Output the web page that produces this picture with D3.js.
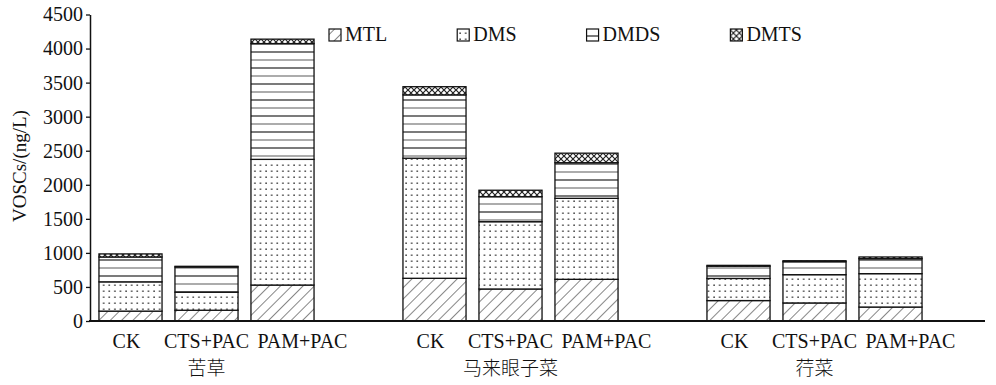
<!DOCTYPE html>
<html>
<head>
<meta charset="utf-8">
<script src="https://cdn.jsdelivr.net/npm/d3@7"></script>
<style>
  html, body { margin: 0; padding: 0; background: #fff; }
  svg { display: block; }
  .serif { font-family: "Liberation Serif", "DejaVu Serif", serif; }
  .cjk { font-family: "Noto Sans CJK SC", sans-serif; }
</style>
</head>
<body>
<svg id="chart" width="996" height="385"></svg>
<script>
// Plant groups, treatments and compound series
const groups = ["苦草", "马来眼子菜", "荇菜"];
const treatments = ["CK", "CTS+PAC", "PAM+PAC"];
const seriesNames = ["MTL", "DMS", "DMDS", "DMTS"];

// Concentrations (ng/L), ordered group by group, treatment by treatment
const MTL  = [145, 158, 528, 627, 470, 612, 300, 265, 205];
const DMS  = [430, 265, 1845, 1763, 988, 1189, 325, 415, 490];
const DMDS = [365, 370, 1700, 930, 367, 523, 180, 190, 220];
const DMTS = [45, 10, 65, 120, 95, 140, 12, 15, 25];

const yTicks = [0, 500, 1000, 1500, 2000, 2500, 3000, 3500, 4000, 4500];

const svg = d3.select("#chart");
const defs = svg.append("defs");

// Fill patterns for the four compounds
function hatchPattern(id) {
  const p = defs.append("pattern").attr("id", id).attr("patternUnits", "userSpaceOnUse")
    .attr("width", 8).attr("height", 8).attr("patternTransform", "rotate(45)");
  p.append("rect").attr("width", 8).attr("height", 8).attr("fill", "#fff");
  p.append("line").attr("x1", 0).attr("y1", 0).attr("x2", 0).attr("y2", 8)
    .attr("stroke", "#222").attr("stroke-width", 1.1);
}
function dotPattern(id) {
  const p = defs.append("pattern").attr("id", id).attr("patternUnits", "userSpaceOnUse")
    .attr("width", 5.6).attr("height", 6);
  p.append("rect").attr("width", 5.6).attr("height", 6).attr("fill", "#fff");
  p.append("rect").attr("x", 2.2).attr("y", 2.5).attr("width", 1.4).attr("height", 1.4).attr("fill", "#222");
}
function stripePattern(id) {
  const p = defs.append("pattern").attr("id", id).attr("patternUnits", "userSpaceOnUse")
    .attr("width", 24).attr("height", 16);
  p.append("rect").attr("width", 24).attr("height", 16).attr("fill", "#fff");
  p.append("line").attr("x1", 0).attr("x2", 24).attr("y1", 4).attr("y2", 4)
    .attr("stroke", "#222").attr("stroke-width", 1.2);
  p.append("line").attr("x1", 0).attr("x2", 24).attr("y1", 12).attr("y2", 12)
    .attr("stroke", "#888").attr("stroke-width", 1.4);
}
function crossPattern(id) {
  const p = defs.append("pattern").attr("id", id).attr("patternUnits", "userSpaceOnUse")
    .attr("width", 6).attr("height", 6);
  p.append("rect").attr("width", 6).attr("height", 6).attr("fill", "#fff");
  p.append("path").attr("d", "M0,0L6,6M6,0L0,6").attr("stroke", "#222").attr("stroke-width", 1.2);
}
hatchPattern("p-mtl");
dotPattern("p-dms");
stripePattern("p-dmds");
crossPattern("p-dmts");
const fills = { MTL: "url(#p-mtl)", DMS: "url(#p-dms)", DMDS: "url(#p-dmds)", DMTS: "url(#p-dmts)" };

// Table of rows for stacking
const rows = [];
groups.forEach((g, gi) => {
  treatments.forEach((t, ti) => {
    const i = gi * 3 + ti;
    rows.push({ slot: gi * 4 + ti, ti: ti, group: g, treatment: t,
      MTL: MTL[i], DMS: DMS[i], DMDS: DMDS[i], DMTS: DMTS[i] });
  });
});

const x = d3.scaleBand()
  .domain(d3.range(11))
  .range([92.5, 928.5])
  .paddingInner(0.17)
  .paddingOuter(0.085);

const y = d3.scaleLinear().domain([0, 4500]).range([321, 14.5]);

const stacked = d3.stack().keys(seriesNames)(rows);

// Bars
const layer = svg.append("g");
stacked.forEach(s => {
  layer.append("g").selectAll("rect").data(s).join("rect")
    .attr("x", d => x(d.data.slot))
    .attr("width", x.bandwidth())
    .attr("y", d => y(d[1]))
    .attr("height", d => y(d[0]) - y(d[1]))
    .attr("fill", fills[s.key])
    .attr("stroke", "#111")
    .attr("stroke-width", 1.3);
});

// Y axis
const yAxis = svg.append("g")
  .attr("transform", "translate(90,0)")
  .call(d3.axisLeft(y).tickValues(yTicks).tickFormat(d3.format("d"))
    .tickSize(4).tickSizeOuter(0).tickPadding(3));
yAxis.select(".domain").attr("stroke", "#111").attr("stroke-width", 1.5);
yAxis.selectAll(".tick line").attr("stroke", "#111").attr("stroke-width", 1.3);
yAxis.selectAll(".tick text").attr("class", "serif").attr("font-size", 20).attr("fill", "#111");

// X axis baseline
svg.append("line")
  .attr("x1", 89).attr("x2", 985)
  .attr("y1", y(0)).attr("y2", y(0))
  .attr("stroke", "#111").attr("stroke-width", 2.2);

// Treatment labels (the last one in each group sits a little to the right)
const labelShift = [-4, 0, 20];
svg.append("g").selectAll("text").data(rows).join("text")
  .attr("class", "serif")
  .attr("x", d => x(d.slot) + x.bandwidth() / 2 + labelShift[d.ti])
  .attr("y", 348)
  .attr("text-anchor", "middle")
  .attr("font-size", 20)
  .attr("fill", "#111")
  .text(d => d.treatment);

// Group labels, centred under the middle treatment
svg.append("g").selectAll("text").data(groups).join("text")
  .attr("class", "cjk")
  .attr("x", (g, gi) => x(gi * 4 + 1) + x.bandwidth() / 2)
  .attr("y", 375)
  .attr("text-anchor", "middle")
  .attr("font-size", 19)
  .attr("font-weight", 300)
  .attr("fill", "#111")
  .text(g => g);

// Y axis title
svg.append("text")
  .attr("class", "serif")
  .attr("transform", "translate(26,166) rotate(-90)")
  .attr("text-anchor", "middle")
  .attr("font-size", 19)
  .attr("fill", "#111")
  .text("VOSCs/(ng/L)");

// Legend
const legend = svg.append("g");
let lx = 329;
seriesNames.forEach(name => {
  const item = legend.append("g").attr("transform", `translate(${lx},0)`);
  item.append("rect").attr("x", 0).attr("y", 29).attr("width", 12).attr("height", 12)
    .attr("fill", fills[name]).attr("stroke", "#111").attr("stroke-width", 1.2);
  const t = item.append("text").attr("class", "serif")
    .attr("x", 16).attr("y", 41).attr("font-size", 20).attr("fill", "#111").text(name);
  lx += 16 + t.node().getComputedTextLength() + 70;
});
</script>
</body>
</html>
